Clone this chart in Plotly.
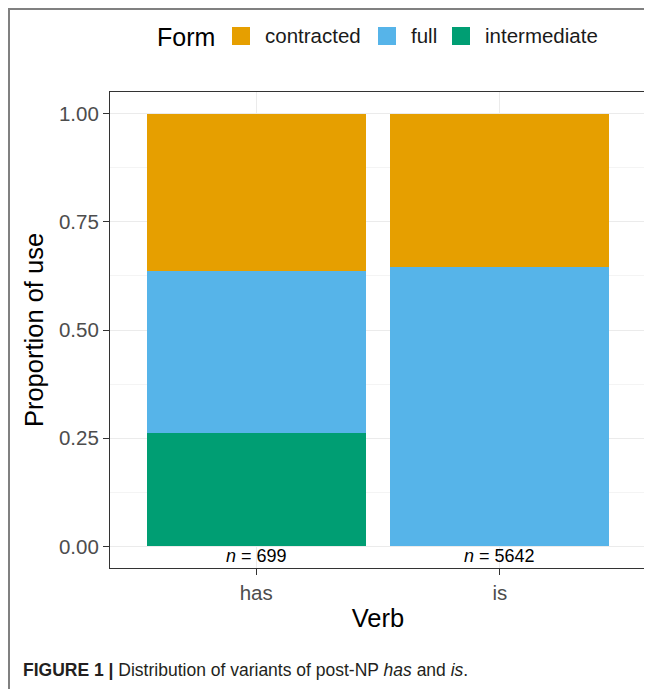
import plotly.graph_objects as go

verbs = ["has", "is"]
forms = ["intermediate", "full", "contracted"]
intermediate = [0.261, 0.0]
full = [0.375, 0.646]
contracted = [0.364, 0.354]
n_counts = [699, 5642]
colors = {"contracted": "#E69F00", "full": "#56B4E9", "intermediate": "#009E73"}
legend_order = ["contracted", "full", "intermediate"]
y_ticks = [0, 0.25, 0.5, 0.75, 1.0]
y_ticklabels = ["0.00", "0.25", "0.50", "0.75", "1.00"]

# page body has an 8px margin; figure sized to fill the rest of the window
OFF = 8
W, H = 652 - OFF, 689 - OFF
L, R, T, B = 110 - OFF, 6, 92 - OFF, 689 - 568
pw, ph = W - L - R, H - T - B

def px_x(p):  # screen pixel -> paper x
    return (p - OFF - L) / pw

def px_y(p):  # screen pixel -> paper y
    return (H - B - (p - OFF)) / ph

FONT = "Liberation Sans, Arial, Helvetica, sans-serif"

fig = go.Figure()
series = {"intermediate": intermediate, "full": full, "contracted": contracted}
for f in forms:
    fig.add_trace(go.Bar(x=verbs, y=series[f], name=f, width=0.9,
                         marker=dict(color=colors[f], line=dict(width=0)),
                         showlegend=False))

annotations = []
for v, n in zip(verbs, n_counts):
    annotations.append(dict(x=v, y=0, xref="x", yref="y", yanchor="top", yshift=2,
                            text=f"<i>n</i> = {n}", showarrow=False,
                            font=dict(family=FONT, size=18, color="black")))

# custom legend
annotations.append(dict(x=px_x(155), y=px_y(37), xref="paper", yref="paper",
                        xanchor="left", yanchor="middle", text="Form", showarrow=False,
                        font=dict(family=FONT, size=25, color="black")))
key_x = [232, 378, 452]
shapes = []
for f, kx in zip(legend_order, key_x):
    shapes.append(dict(type="rect", xref="paper", yref="paper",
                       x0=px_x(kx), x1=px_x(kx + 18), y0=px_y(45), y1=px_y(27),
                       fillcolor=colors[f], line=dict(width=0)))
    annotations.append(dict(x=px_x(kx + 31), y=px_y(36), xref="paper", yref="paper",
                            xanchor="left", yanchor="middle", text=f, showarrow=False,
                            font=dict(family=FONT, size=20.5, color="#1a1a1a")))

# caption
annotations.append(dict(x=px_x(21), y=px_y(670), xref="paper", yref="paper",
                        xanchor="left", yanchor="middle", showarrow=False,
                        text="<b>FIGURE 1 |</b> Distribution of variants of post-NP <i>has</i> and <i>is</i>.",
                        font=dict(family=FONT, size=17.5, color="#231F20")))

# outer frame
shapes.append(dict(type="rect", xref="paper", yref="paper",
                   x0=px_x(OFF + 1), x1=px_x(670), y0=px_y(710), y1=px_y(OFF + 1),
                   line=dict(color="#808080", width=2), fillcolor="rgba(0,0,0,0)"))

fig.update_layout(
    width=W, height=H, barmode="stack", bargap=0.1,
    margin=dict(l=L, r=R, t=T, b=B),
    paper_bgcolor="white", plot_bgcolor="white",
    font=dict(family=FONT),
    annotations=annotations, shapes=shapes,
)
fig.update_xaxes(
    type="category", range=[-0.6, 1.6],
    showline=True, mirror=True, linecolor="#333333", linewidth=1.2,
    ticks="outside", ticklen=6, tickwidth=1.2, tickcolor="#333333",
    showgrid=True, gridcolor="#EBEBEB", gridwidth=1.4,
    tickfont=dict(family=FONT, size=20.5, color="#4D4D4D"),
    title=dict(text="Verb", font=dict(family=FONT, size=25.5, color="black"), standoff=6),
    zeroline=False,
)
fig.update_yaxes(
    range=[-0.05, 1.05], tickvals=y_ticks, ticktext=y_ticklabels,
    showline=True, mirror=True, linecolor="#333333", linewidth=1.2,
    ticks="outside", ticklen=6, tickwidth=1.2, tickcolor="#333333",
    showgrid=True, gridcolor="#EBEBEB", gridwidth=1.4,
    minor=dict(tickvals=[0.125, 0.375, 0.625, 0.875], showgrid=True, gridcolor="#F4F4F4", gridwidth=0.8, ticks=""),
    tickfont=dict(family=FONT, size=20.5, color="#4D4D4D"),
    title=dict(text="Proportion of use", font=dict(family=FONT, size=25.5, color="black"), standoff=7),
    zeroline=False,
)

fig.write_html("out.html")
